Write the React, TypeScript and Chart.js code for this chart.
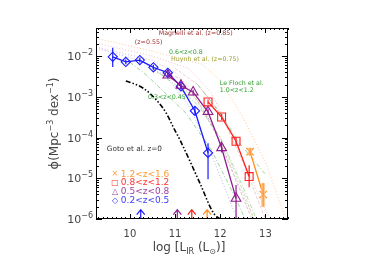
import { useEffect, useRef } from 'react';
import { Chart, registerables } from 'chart.js';

Chart.register(...registerables);

const FONT = "'DejaVu Sans', 'Liberation Sans', sans-serif";

// ---- measured luminosity function points (log L_IR, phi) ----
const blueX = [9.62, 9.91, 10.22, 10.52, 10.84, 11.13, 11.44, 11.73];
const blueY = [9.6e-3, 7.2e-3, 8.0e-3, 5.3e-3, 3.9e-3, 1.8e-3, 4.5e-4, 4.2e-5];
const blueLo = [5.4e-3, 6.3e-3, 7.0e-3, 4.6e-3, 3.4e-3, 1.5e-3, 3.6e-4, 9.5e-6];
const blueHi = [1.6e-2, 8.2e-3, 9.2e-3, 6.1e-3, 4.5e-3, 2.1e-3, 5.6e-4, 7.2e-5];

const purpleX = [10.84, 11.13, 11.4, 11.73, 12.03, 12.35];
const purpleY = [3.4e-3, 1.9e-3, 1.3e-3, 4.3e-4, 5.6e-5, 3.2e-6];
const purpleLo = [2.9e-3, 1.6e-3, 1.1e-3, 3.6e-4, 4.3e-5, 1e-6];
const purpleHi = [4.0e-3, 2.2e-3, 1.5e-3, 5.2e-4, 7.2e-5, 6.8e-6];

const redX = [11.73, 12.03, 12.35, 12.64];
const redY = [7.5e-4, 3.2e-4, 8.1e-5, 1.1e-5];
const redLo = [6.5e-4, 2.7e-4, 6.5e-5, 6e-6];
const redHi = [8.6e-4, 3.8e-4, 1.0e-4, 2.1e-5];

const orangeX = [12.66, 12.95];
const orangeY = [4.5e-5, 4.0e-6];
const orangeLo = [3.6e-5, 2.0e-6];
const orangeHi = [5.6e-5, 7.6e-6];

// completeness limits (upward arrows)
const arrowX = [10.24, 11.05, 11.37, 11.71];
const arrowColors = ['#1a1aff', '#8e1c8e', '#ff2020', '#ff8c1a'];

// Goto et al. z=0
const gotoX = [9.91, 10.07, 10.3, 10.59, 10.81, 10.96, 11.11, 11.55, 11.85, 12.0];
const gotoY = [2.45e-3, 2.14e-3, 1.62e-3, 8.3e-4, 3.9e-4, 1.8e-4, 8.7e-5, 7.6e-6, 1.4e-6, 1e-6];

// fitted curves (dotted)
const fitOrangeX = [9.25, 10.5, 11.6, 12.0, 12.5, 13.0, 13.45];
const fitOrangeY = [2.75e-2, 1.32e-2, 6.3e-3, 2.5e-3, 3.2e-4, 2.5e-5, 1e-6];
const fitRedX = [9.25, 10.5, 11.3, 11.8, 12.3, 12.8, 13.1];
const fitRedY = [2.1e-2, 1e-2, 5e-3, 1.26e-3, 1e-4, 5e-6, 1e-6];
const fitPurpleX = [9.25, 10.5, 11.0, 11.5, 12.0, 12.5, 12.75];
const fitPurpleY = [1.66e-2, 7.9e-3, 4e-3, 1e-3, 7.9e-5, 4e-6, 1e-6];
const fitBlueX = [9.25, 10.2, 10.8, 11.3, 11.8, 12.3, 12.4];
const fitBlueY = [1.58e-2, 7.9e-3, 3.2e-3, 6.3e-4, 4e-5, 1.6e-6, 1e-6];

// literature curves
const lfLowX = [10.0, 10.36, 11.24, 11.8, 12.3, 12.55];
const lfLowY = [7.1e-3, 3.5e-3, 4e-4, 5e-5, 4e-6, 1e-6];
const lfMidX = [10.5, 11.0, 11.5, 12.0, 12.5, 12.8];
const lfMidY = [5e-3, 2e-3, 6.3e-4, 1e-4, 6.3e-6, 1e-6];
const lfHighX = [11.5, 12.0, 12.4, 13.0];
const lfHighY = [2e-3, 4e-4, 7.9e-5, 1.26e-5];
const magLowX = [10.7, 11.1, 11.5, 12.0, 12.4, 12.7];
const magLowY = [4.5e-3, 2.8e-3, 7.9e-4, 7.9e-5, 6.3e-6, 1e-6];
const magHighX = [11.0, 11.5, 12.0, 12.5, 13.0];
const magHighY = [5e-3, 2e-3, 4e-4, 2.5e-5, 1e-6];
const huynhX = [10.5, 11.0, 11.5, 12.0, 12.5, 12.75];
const huynhY = [4.5e-3, 2.5e-3, 7.9e-4, 1e-4, 5e-6, 1e-6];

// axes
const xTicks = [10, 11, 12, 13];
const yTickExp = [-6, -5, -4, -3, -2];

// annotations
const notes = [
  { text: 'Magnelli et al. (z=0.85)', x: 10.64, y: 3.67e-2, color: '#a03030', size: 6.3 },
  { text: '(z=0.55)', x: 10.11, y: 2.21e-2, color: '#a03030', size: 6.3 },
  { text: '0.6<z<0.8', x: 10.865, y: 1.26e-2, color: '#30a030', size: 6.3 },
  { text: 'Huynh et al. (z=0.75)', x: 10.91, y: 8.5e-3, color: '#a0a030', size: 6.3 },
  { text: 'Le Floch et al.', x: 11.99, y: 2.19e-3, color: '#30a030', size: 6.3 },
  { text: '1.0<z<1.2', x: 11.99, y: 1.46e-3, color: '#30a030', size: 6.3 },
  { text: '0.3<z<0.45', x: 10.4, y: 9.8e-4, color: '#30a030', size: 6.3 },
  { text: 'Goto et al. z=0', x: 9.49, y: 5.2e-5, color: '#333333', size: 7.3 },
];
const legendLabels = ['1.2<z<1.6', '0.8<z<1.2', '0.5<z<0.8', '0.2<z<0.5'];
const legendGlyphs = ['×', '□', '△', '◇'];
const legendColors = ['#ff9933', '#ff3333', '#a040a0', '#4040ff'];
const legendY = [1.26e-5, 7.6e-6, 4.6e-6, 2.75e-6];

type Seg = { t: string; size: number; dy?: number };

function drawRich(ctx: CanvasRenderingContext2D, segs: Seg[], x: number, y: number, align: string, color: string) {
  const widths = segs.map((s) => {
    ctx.font = `${s.size}px ${FONT}`;
    return ctx.measureText(s.t).width;
  });
  const total = widths.reduce((a, b) => a + b, 0);
  let cx = align === 'left' ? x : align === 'center' ? x - total / 2 : x - total;
  ctx.fillStyle = color;
  ctx.textAlign = 'left';
  ctx.textBaseline = 'alphabetic';
  segs.forEach((s, i) => {
    ctx.font = `${s.size}px ${FONT}`;
    ctx.fillText(s.t, cx, y + (s.dy || 0));
    cx += widths[i];
  });
}

const framePlugin = {
  id: 'frame',
  afterDatasetsDraw(chart: any) {
    const { ctx, chartArea: a, scales } = chart;
    const xs = scales.x;
    const ys = scales.y;
    ctx.save();
    ctx.beginPath();
    ctx.rect(a.left, a.top, a.right - a.left, a.bottom - a.top);
    ctx.clip();
    const bars = (X: number[], lo: number[], hi: number[], color: string, w: number) => {
      ctx.strokeStyle = color;
      ctx.lineWidth = w;
      X.forEach((v, i) => {
        const px = xs.getPixelForValue(v);
        ctx.beginPath();
        ctx.moveTo(px, ys.getPixelForValue(lo[i]));
        ctx.lineTo(px, ys.getPixelForValue(hi[i]));
        ctx.stroke();
      });
    };
    bars(orangeX, orangeLo, orangeHi, 'rgba(255,190,130,0.8)', 4);
    bars(orangeX, orangeLo, orangeHi, '#ff8c1a', 1);
    bars(blueX, blueLo, blueHi, '#1a1aff', 1.2);
    bars(purpleX, purpleLo, purpleHi, '#8e1c8e', 1.2);
    bars(redX, redLo, redHi, '#ff2020', 1.2);
    // arrows
    arrowX.forEach((v, i) => {
      const px = xs.getPixelForValue(v);
      const base = ys.getPixelForValue(1e-6);
      const tip = ys.getPixelForValue(1.7e-6);
      ctx.strokeStyle = arrowColors[i];
      ctx.lineWidth = 1.2;
      ctx.beginPath();
      ctx.moveTo(px, base);
      ctx.lineTo(px, tip);
      ctx.moveTo(px - 4, tip + 5);
      ctx.lineTo(px, tip);
      ctx.lineTo(px + 4, tip + 5);
      ctx.stroke();
    });
    ctx.restore();

    // box
    ctx.save();
    ctx.strokeStyle = '#000';
    ctx.lineWidth = 1;
    ctx.strokeRect(a.left + 0.5, a.top + 0.5, a.right - a.left - 1, a.bottom - a.top - 1);
    ctx.beginPath();
    for (let k = 93; k <= 135; k++) {
      const v = k / 10;
      const px = Math.round(xs.getPixelForValue(v)) + 0.5;
      const major = k % 10 === 0;
      const len = major ? 5 : 2;
      ctx.moveTo(px, a.bottom);
      ctx.lineTo(px, a.bottom - len);
      ctx.moveTo(px, a.top);
      ctx.lineTo(px, a.top + len);
    }
    for (let e = -6; e <= -2; e++) {
      for (let m = 1; m <= 9; m++) {
        const v = m * Math.pow(10, e);
        if (v > ys.max) continue;
        const py = Math.round(ys.getPixelForValue(v)) + 0.5;
        const len = m === 1 ? 6 : 3;
        ctx.moveTo(a.left, py);
        ctx.lineTo(a.left + len, py);
        ctx.moveTo(a.right, py);
        ctx.lineTo(a.right - len, py);
      }
    }
    ctx.stroke();

    // tick labels
    xTicks.forEach((v) => {
      drawRich(ctx, [{ t: String(v), size: 10 }], xs.getPixelForValue(v), 237, 'center', '#444');
    });
    yTickExp.forEach((e) => {
      const py = ys.getPixelForValue(Math.pow(10, e));
      drawRich(ctx, [{ t: '10', size: 11 }, { t: '−' + String(-e), size: 8, dy: -5 }], 93, py + 4, 'right', '#444');
    });

    // axis titles
    drawRich(
      ctx,
      [
        { t: 'log [L', size: 12 },
        { t: 'IR', size: 8, dy: 3 },
        { t: ' (L', size: 12 },
        { t: '⊙', size: 8, dy: 3 },
        { t: ')]', size: 12 },
      ],
      (a.left + a.right) / 2 - 3,
      251,
      'center',
      '#444'
    );
    ctx.save();
    ctx.translate(54, (a.top + a.bottom) / 2);
    ctx.rotate(-Math.PI / 2);
    drawRich(
      ctx,
      [
        { t: 'ϕ', size: 13 },
        { t: '(Mpc', size: 12 },
        { t: '−3', size: 8, dy: -5 },
        { t: ' dex', size: 12 },
        { t: '−1', size: 8, dy: -5 },
        { t: ')', size: 12 },
      ],
      0,
      4,
      'center',
      '#444'
    );
    ctx.restore();

    // annotations
    ctx.textBaseline = 'middle';
    ctx.textAlign = 'left';
    notes.forEach((n) => {
      ctx.font = `${n.size}px ${FONT}`;
      ctx.fillStyle = n.color;
      ctx.fillText(n.text, xs.getPixelForValue(n.x), ys.getPixelForValue(n.y));
    });
    legendLabels.forEach((lab, i) => {
      const py = ys.getPixelForValue(legendY[i]);
      ctx.fillStyle = legendColors[i];
      ctx.font = `8px ${FONT}`;
      ctx.textAlign = 'center';
      ctx.fillText(legendGlyphs[i], xs.getPixelForValue(9.67), py);
      ctx.font = `9px ${FONT}`;
      ctx.textAlign = 'left';
      ctx.fillText(lab, xs.getPixelForValue(9.8), py);
    });
    ctx.restore();
  },
};

export default function App() {
  const ref = useRef<HTMLCanvasElement>(null);
  useEffect(() => {
    const canvas = ref.current;
    if (!canvas) return;
    const mk = (X: number[], Y: number[]) => X.map((v, i) => ({ x: v, y: Y[i] }));
    const faint = (X: number[], Y: number[], color: string, dash: number[]) => ({
      data: mk(X, Y),
      borderColor: color,
      borderWidth: 1,
      borderDash: dash,
      pointRadius: 0,
      showLine: true,
      order: 10,
    });
    const series = (X: number[], Y: number[], color: string, style: string, r: number) => ({
      data: mk(X, Y),
      borderColor: color,
      borderWidth: 1.3,
      showLine: true,
      pointStyle: style,
      pointRadius: r,
      pointBorderWidth: 1.1,
      pointBorderColor: color,
      pointBackgroundColor: 'rgba(0,0,0,0)',
      order: 1,
    });
    const dot = [1, 2];
    const dashdot = [4, 2, 1, 2];
    const chart = new Chart(canvas, {
      type: 'scatter',
      data: {
        datasets: [
          series(orangeX, orangeY, '#ff8c1a', 'crossRot', 5.2),
          series(redX, redY, '#ff2020', 'rect', 5.6),
          series(purpleX, purpleY, '#8e1c8e', 'triangle', 5.6),
          series(blueX, blueY, '#1a1aff', 'rectRot', 4.6),
          {
            data: mk(gotoX, gotoY),
            borderColor: '#000',
            borderWidth: 1.6,
            borderDash: [5, 2, 1.5, 2, 1.5, 2],
            pointRadius: 0,
            showLine: true,
            cubicInterpolationMode: 'monotone',
            order: 2,
          },
          faint(fitOrangeX, fitOrangeY, 'rgba(255,150,60,0.5)', dot),
          faint(fitRedX, fitRedY, 'rgba(240,110,130,0.45)', dot),
          faint(fitPurpleX, fitPurpleY, 'rgba(170,90,190,0.45)', dot),
          faint(fitBlueX, fitBlueY, 'rgba(90,90,240,0.45)', dot),
          faint(lfLowX, lfLowY, 'rgba(60,170,60,0.5)', dashdot),
          faint(lfMidX, lfMidY, 'rgba(60,170,60,0.4)', dashdot),
          faint(lfHighX, lfHighY, 'rgba(60,170,60,0.5)', dashdot),
          faint(magLowX, magLowY, 'rgba(170,80,80,0.35)', [3, 2]),
          faint(magHighX, magHighY, 'rgba(200,110,110,0.35)', [3, 2]),
          faint(huynhX, huynhY, 'rgba(170,170,60,0.4)', [3, 2]),
        ] as any,
      },
      options: {
        responsive: false,
        animation: false,
        events: [],
        layout: { padding: { left: 0, right: 97, top: 28, bottom: 0 } },
        plugins: { legend: { display: false }, tooltip: { enabled: false } },
        scales: {
          x: {
            type: 'linear',
            min: 9.25,
            max: 13.5,
            ticks: { display: false },
            grid: { display: false },
            border: { display: false },
            afterFit: (s: any) => {
              s.height = 56;
            },
          },
          y: {
            type: 'logarithmic',
            min: 1e-6,
            max: 0.049,
            ticks: { display: false },
            grid: { display: false },
            border: { display: false },
            afterFit: (s: any) => {
              s.width = 96;
            },
          },
        },
      } as any,
      plugins: [framePlugin as any],
    });
    return () => chart.destroy();
  }, []);
  return (
    <div style={{ position: 'fixed', left: 0, top: 0, width: 385, height: 275, background: '#fff' }}>
      <canvas ref={ref} width={385} height={275} style={{ width: 385, height: 275, display: 'block' }} />
    </div>
  );
}
